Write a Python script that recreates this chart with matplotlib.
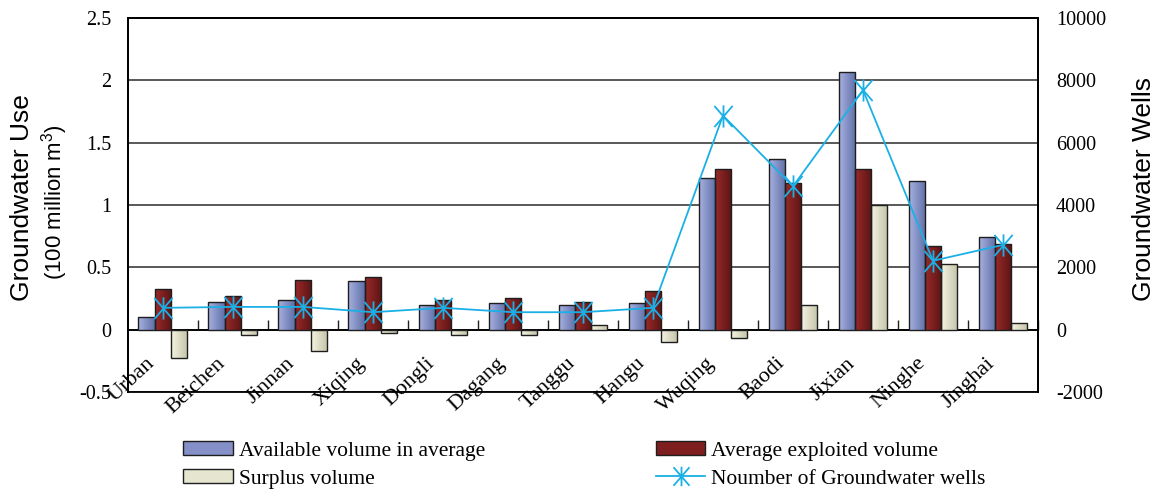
import numpy as np
import matplotlib
matplotlib.use('Agg')
import matplotlib.pyplot as plt
from matplotlib.colors import LinearSegmentedColormap
from matplotlib.lines import Line2D
from matplotlib.patches import Patch
from matplotlib.path import Path

districts = ['Urban', 'Beichen', 'Jinnan', 'Xiqing', 'Dongli', 'Dagang', 'Tanggu',
             'Hangu', 'Wuqing', 'Baodi', 'Jixian', 'Ninghe', 'Jinghai']
available = [0.10, 0.22, 0.24, 0.39, 0.20, 0.21, 0.20, 0.21, 1.22, 1.37, 2.07, 1.19, 0.74]
exploited = [0.33, 0.27, 0.40, 0.42, 0.24, 0.25, 0.22, 0.31, 1.29, 1.18, 1.29, 0.67, 0.69]
surplus = [-0.23, -0.04, -0.17, -0.03, -0.04, -0.04, 0.04, -0.10, -0.07, 0.20, 1.00, 0.53, 0.05]
wells = [700, 730, 730, 560, 700, 560, 560, 700, 6870, 4600, 7690, 2210, 2720]

serif = 'Liberation Serif'
sans = 'Liberation Sans'
plt.rcParams['axes.unicode_minus'] = False

fig = plt.figure(figsize=(11.59, 4.93), dpi=100)
ax = fig.add_axes([0.1104, 0.2049, 0.7852, 0.7586])
ax2 = ax.twinx()

x = np.arange(len(districts))
w = 0.233

# asterisk: vertical stroke plus a steep X
star = Path([(0, -1), (0, 1), (-0.82, -0.95), (0.82, 0.95), (-0.82, 0.95), (0.82, -0.95)],
            [Path.MOVETO, Path.LINETO] * 3)


def shade(bars, c_left, c_right):
    # horizontal gradient fill clipped to each bar
    cmap = LinearSegmentedColormap.from_list('g', [c_left, c_right])
    grad = np.linspace(0, 1, 64).reshape(1, -1)
    for b in bars:
        x0, y0 = b.get_x(), b.get_y()
        im = ax.imshow(grad, cmap=cmap, aspect='auto', zorder=2.9,
                       extent=[x0, x0 + b.get_width(), y0, y0 + b.get_height()])
        im.set_clip_path(b)


b1 = ax.bar(x - w, available, w, facecolor='none', edgecolor='#1e1e1e', lw=1.0, zorder=3)
b2 = ax.bar(x, exploited, w, facecolor='none', edgecolor='#1e1e1e', lw=1.0, zorder=3)
b3 = ax.bar(x + w, surplus, w, facecolor='none', edgecolor='#1e1e1e', lw=1.0, zorder=3)
shade(b1, '#a9b2e0', '#5f6fa8')
shade(b2, '#9c2a2a', '#5a1414')
shade(b3, '#f4f4e2', '#c4c4aa')

ax2.plot(x, wells, color='#1ab0e6', lw=1.3, marker=star, ms=16, mew=1.3, zorder=5)

ax.set_xlim(-0.5, len(districts) - 0.5)
ax.set_ylim(-0.5, 2.5)
ax.set_yticks(np.arange(-0.5, 2.51, 0.5))
ax.set_yticklabels(['-0.5', '0', '0.5', '1', '1.5', '2', '2.5'])
ax2.set_ylim(-2000, 10000)
ax2.set_yticks(np.arange(-2000, 10001, 2000))

ax.set_axisbelow(True)
ax.yaxis.grid(True, color='#3c3c3c', lw=1.2)

# x axis sits on the zero line, small ticks between districts
ax.spines['bottom'].set_position(('data', 0))
ax.spines['bottom'].set_linewidth(1.3)
ax.set_xticks(x + 0.5, minor=True)
ax.set_xticks([])
ax.tick_params(axis='x', which='minor', direction='in', length=7, width=1, color='#222222')
for s in ['left', 'top', 'right']:
    ax.spines[s].set_linewidth(1.3)
for s in ax2.spines.values():
    s.set_linewidth(1.3)

ax.tick_params(axis='y', length=0, pad=12, labelsize=14.5)
ax2.tick_params(axis='y', length=0, pad=13, labelsize=14.5)
for lab in ax.get_yticklabels() + ax2.get_yticklabels():
    lab.set_fontfamily(serif)

for i, name in enumerate(districts):
    ax.text(i - 0.15, -0.25, name, rotation=43, ha='right', va='center',
            rotation_mode='anchor', fontsize=16, family=serif, clip_on=False)

fig.text(22 / 1159, 1 - 198 / 493, 'Groundwater Use', rotation=90, ha='center',
         va='center', fontsize=19, family=sans)
fig.text(55 / 1159, 1 - 202 / 493, r'(100 million m$^{\mathregular{3}}$)', rotation=90,
         ha='center', va='center', fontsize=16, family=sans)
fig.text(1144 / 1159, 1 - 189 / 493, 'Groundwater Wells', rotation=90, ha='center',
         va='center', fontsize=19, family=sans)

handles = [
    Patch(facecolor='#8590c8', edgecolor='#1e1e1e', lw=1),
    Patch(facecolor='#e6e6d0', edgecolor='#1e1e1e', lw=1),
    Patch(facecolor='#7e1e1e', edgecolor='#1e1e1e', lw=1),
    Line2D([], [], color='#1ab0e6', lw=1.3, marker=star, ms=14, mew=1.3),
]
labels = ['Available volume in average', 'Surplus volume',
          'Average exploited volume', 'Noumber of Groundwater wells']
fig.legend(handles, labels, ncol=2, loc='upper left', bbox_to_anchor=(0.149, 0.127),
           frameon=False, prop={'family': serif, 'size': 15.5}, handlelength=2.28,
           handleheight=0.6, handletextpad=0.28, columnspacing=7.95, labelspacing=0.4,
           borderpad=0)

fig.savefig('out.png', dpi=100)
